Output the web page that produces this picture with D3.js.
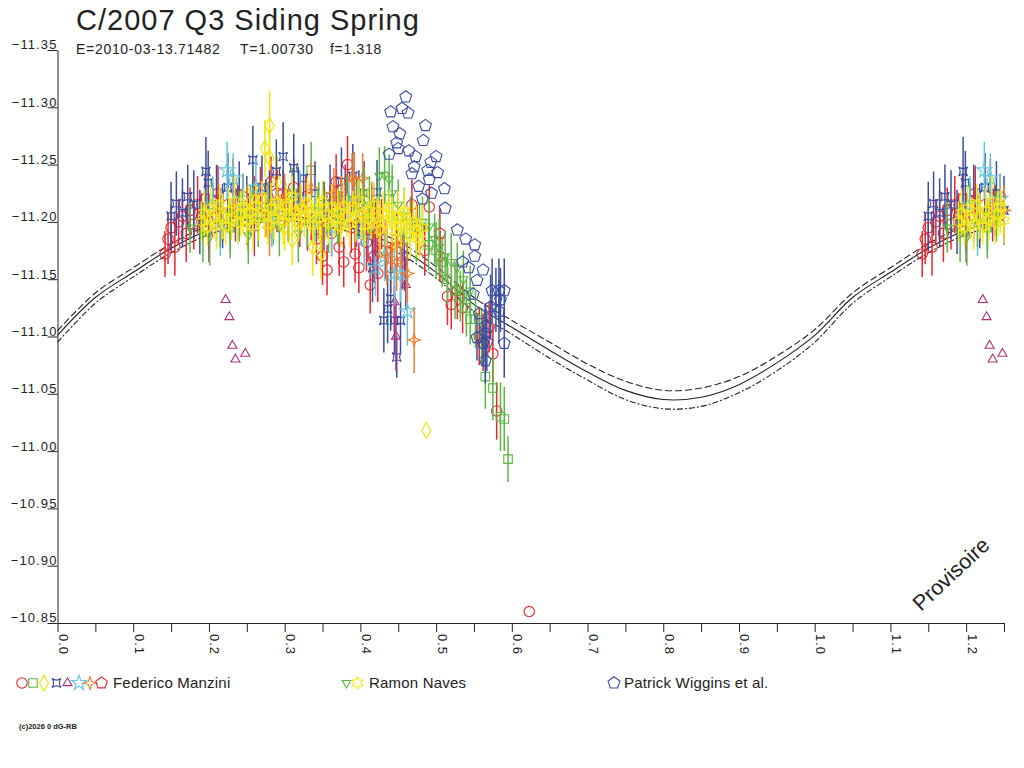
<!DOCTYPE html>
<html lang="fr">
<head>
<meta charset="utf-8" />
<title>C/2007 Q3 Siding Spring</title>
<script src="https://cdn.jsdelivr.net/npm/d3@7/dist/d3.min.js"></script>
<style>
body { margin: 0; background: #fff; }
text { font-family: "Liberation Sans", Arial, sans-serif; fill: #222; }
</style>
</head>
<body>
<script>
// ---- model curve (phase, centre, upper dashed, lower dash-dot) ----
var curvePhase = [0, 0.05, 0.10, 0.15, 0.20, 0.25, 0.30, 0.35, 0.40, 0.45, 0.50, 0.55, 0.60,
	0.65, 0.70, 0.75, 0.80, 0.85, 0.90, 0.95, 1.00, 1.05, 1.10, 1.15, 1.20, 1.25];
var curveMid = [-11.101, -11.134, -11.156, -11.177, -11.193, -11.202, -11.205, -11.201, -11.192,
	-11.178, -11.156, -11.128, -11.108, -11.088, -11.069, -11.053, -11.045, -11.047, -11.058,
	-11.077, -11.101, -11.134, -11.156, -11.177, -11.193, -11.202];
var curveHigh = [-11.105, -11.138, -11.160, -11.181, -11.197, -11.206, -11.209, -11.205, -11.196,
	-11.183, -11.161, -11.134, -11.114, -11.095, -11.076, -11.061, -11.053, -11.055, -11.065,
	-11.083, -11.106, -11.138, -11.160, -11.181, -11.197, -11.206];
var curveLow = [-11.095, -11.129, -11.152, -11.173, -11.189, -11.198, -11.201, -11.197, -11.188,
	-11.173, -11.151, -11.122, -11.102, -11.081, -11.062, -11.045, -11.037, -11.039, -11.051,
	-11.070, -11.095, -11.129, -11.152, -11.173, -11.189, -11.198];

// ---- observations: [phase, magnitude, error] ----
// Federico Manzini
var fmCircle = [[0.142,-11.172,0.02],[0.146,-11.185,0.022],[0.150,-11.195,0.02],[0.155,-11.178,0.025],
	[0.160,-11.200,0.02],[0.165,-11.205,0.022],[0.170,-11.190,0.025],[0.175,-11.210,0.02],[0.180,-11.198,0.022],
	[0.185,-11.215,0.025],[0.190,-11.205,0.02],[0.195,-11.220,0.022],[0.200,-11.200,0.025],[0.205,-11.212,0.02],
	[0.212,-11.225,0.024],[0.218,-11.205,0.022],[0.225,-11.215,0.02],[0.232,-11.230,0.025],[0.238,-11.210,0.022],
	[0.245,-11.222,0.02],[0.252,-11.200,0.025],[0.260,-11.218,0.022],[0.268,-11.228,0.02],[0.275,-11.212,0.025],
	[0.282,-11.235,0.022],[0.290,-11.215,0.024],[0.298,-11.225,0.02],[0.305,-11.205,0.022],[0.312,-11.230,0.025],
	[0.320,-11.200,0.022],[0.328,-11.222,0.02],[0.335,-11.208,0.024],[0.342,-11.185,0.022],[0.350,-11.170,0.025],
	[0.356,-11.158,0.022],[0.362,-11.190,0.02],[0.368,-11.235,0.024],[0.372,-11.178,0.025],[0.378,-11.165,0.022],
	[0.383,-11.250,0.025],[0.388,-11.195,0.022],[0.393,-11.172,0.025],[0.398,-11.160,0.022],[0.402,-11.205,0.02],
	[0.408,-11.182,0.025],[0.413,-11.145,0.025],[0.418,-11.170,0.022],[0.423,-11.155,0.025],[0.428,-11.198,0.022],
	[0.433,-11.175,0.025],[0.440,-11.160,0.022],[0.448,-11.185,0.022],[0.455,-11.165,0.024],[0.468,-11.215,0.022],
	[0.475,-11.195,0.02],[0.485,-11.175,0.022],[0.491,-11.213,0.02],[0.505,-11.170,0.022],[0.515,-11.135,0.025],
	[0.520,-11.128,0.022],[0.528,-11.140,0.025],[0.535,-11.125,0.022],[0.557,-11.100,0.025],[0.562,-11.095,0.025],
	[0.570,-11.108,0.022],[0.575,-11.085,0.025],[0.580,-11.035,0.025],[0.623,-10.860,0]];
var fmSquare = [[0.205,-11.215,0.02],[0.228,-11.195,0.02],[0.255,-11.210,0.022],[0.285,-11.200,0.02],
	[0.310,-11.225,0.022],[0.335,-11.245,0.025],[0.352,-11.215,0.02],[0.372,-11.205,0.022],[0.395,-11.220,0.02],
	[0.418,-11.210,0.022],[0.438,-11.220,0.02],[0.450,-11.205,0.022],[0.462,-11.190,0.02],[0.478,-11.195,0.022],
	[0.490,-11.180,0.022],[0.500,-11.175,0.025],[0.508,-11.165,0.022],[0.515,-11.150,0.022],[0.525,-11.140,0.025],
	[0.532,-11.135,0.022],[0.540,-11.125,0.025],[0.545,-11.115,0.022],[0.552,-11.115,0.025],[0.560,-11.100,0.025],
	[0.565,-11.065,0.028],[0.575,-11.055,0.028],[0.585,-11.030,0.03],[0.590,-11.028,0.028],[0.595,-10.993,0.02]];
var fmDiamond = [[0.245,-11.210,0.02],[0.258,-11.228,0.02],[0.274,-11.264,0.025],[0.280,-11.284,0.03],
	[0.280,-11.256,0.022],[0.290,-11.235,0.022],[0.300,-11.195,0.02],[0.310,-11.184,0.022],[0.337,-11.178,0.025],
	[0.348,-11.172,0.022],[0.350,-11.200,0.02],[0.405,-11.190,0.022],[0.487,-11.018,0]];
var fmAstroid = [[0.150,-11.205,0.03],[0.157,-11.216,0.028],[0.165,-11.208,0.03],[0.172,-11.222,0.028],
	[0.180,-11.215,0.03],[0.188,-11.200,0.028],[0.196,-11.244,0.03],[0.199,-11.234,0.028],[0.210,-11.220,0.03],
	[0.218,-11.205,0.028],[0.225,-11.230,0.03],[0.240,-11.225,0.028],[0.250,-11.210,0.03],[0.258,-11.254,0.03],
	[0.270,-11.230,0.028],[0.280,-11.215,0.03],[0.289,-11.244,0.028],[0.298,-11.257,0.03],[0.312,-11.247,0.03],
	[0.318,-11.220,0.028],[0.325,-11.238,0.03],[0.340,-11.225,0.028],[0.352,-11.205,0.03],[0.360,-11.222,0.028],
	[0.375,-11.235,0.03],[0.390,-11.240,0.028],[0.398,-11.215,0.03],[0.405,-11.225,0.028],[0.416,-11.160,0.03],
	[0.422,-11.226,0.028],[0.431,-11.114,0.028],[0.436,-11.124,0.03],[0.440,-11.133,0.028],[0.445,-11.114,0.03],
	[0.448,-11.082,0.018],[0.453,-11.114,0.028],[0.458,-11.170,0.03]];
var fmTriangle = [[0.200,-11.190,0.025],[0.222,-11.132,0],[0.227,-11.117,0],[0.231,-11.092,0],[0.235,-11.080,0],
	[0.248,-11.085,0],[0.235,-11.205,0.022],[0.260,-11.195,0.025],[0.300,-11.215,0.02],[0.330,-11.200,0.025],
	[0.360,-11.210,0.022],[0.380,-11.225,0.025],[0.395,-11.200,0.022],[0.410,-11.190,0.025],[0.422,-11.175,0.025],
	[0.445,-11.130,0.025],[0.447,-11.100,0.03],[0.460,-11.145,0.022]];
var fmStar = [[0.205,-11.215,0.025],[0.215,-11.200,0.03],[0.224,-11.245,0.025],[0.232,-11.238,0.022],
	[0.245,-11.220,0.022],[0.262,-11.230,0.025],[0.283,-11.200,0.022],[0.320,-11.220,0.025],[0.340,-11.205,0.022],
	[0.362,-11.195,0.025],[0.385,-11.215,0.022],[0.405,-11.185,0.025],[0.420,-11.160,0.025],[0.432,-11.170,0.022],
	[0.445,-11.155,0.028],[0.453,-11.155,0.025],[0.462,-11.122,0.03]];
var fmSparkle = [[0.250,-11.210,0.022],[0.280,-11.195,0.025],[0.300,-11.220,0.022],[0.320,-11.210,0.025],
	[0.335,-11.230,0.022],[0.350,-11.200,0.025],[0.365,-11.225,0.022],[0.375,-11.215,0.025],[0.389,-11.238,0.022],
	[0.392,-11.236,0.025],[0.403,-11.238,0.022],[0.415,-11.210,0.025],[0.425,-11.190,0.022],[0.435,-11.170,0.025],
	[0.442,-11.178,0.022],[0.448,-11.165,0.025],[0.454,-11.181,0.022],[0.462,-11.155,0.025],[0.471,-11.097,0.029]];
var fmPentagon = [[0.210,-11.205,0.022],[0.290,-11.225,0.02],[0.370,-11.210,0.022],[0.420,-11.195,0.025],
	[0.505,-11.190,0.022]];
// Ramon Naves
var rnTriangle = [[0.175,-11.195,0.022],[0.192,-11.190,0.025],[0.201,-11.187,0.025],[0.215,-11.200,0.022],
	[0.228,-11.193,0.025],[0.240,-11.205,0.022],[0.252,-11.188,0.025],[0.265,-11.200,0.022],[0.278,-11.210,0.025],
	[0.293,-11.195,0.025],[0.305,-11.205,0.022],[0.318,-11.190,0.025],[0.330,-11.200,0.022],[0.345,-11.210,0.025],
	[0.358,-11.195,0.022],[0.370,-11.205,0.025],[0.382,-11.220,0.022],[0.395,-11.210,0.025],[0.405,-11.225,0.022],
	[0.412,-11.215,0.025],[0.425,-11.240,0.025],[0.432,-11.241,0.025],[0.438,-11.237,0.022],[0.442,-11.225,0.025],
	[0.450,-11.215,0.022],[0.458,-11.205,0.025],[0.466,-11.200,0.022],[0.474,-11.190,0.025],[0.482,-11.200,0.022],
	[0.491,-11.196,0.025],[0.498,-11.185,0.022],[0.504,-11.178,0.025],[0.512,-11.170,0.022],[0.520,-11.165,0.025],
	[0.528,-11.160,0.022],[0.536,-11.150,0.025],[0.545,-11.140,0.022]];
var rnHexagram = [[0.190,-11.200,0.018],[0.194,-11.208,0.02],[0.198,-11.195,0.016],[0.202,-11.212,0.02],
	[0.206,-11.203,0.018],[0.210,-11.198,0.022],[0.214,-11.215,0.018],[0.218,-11.205,0.02],[0.222,-11.196,0.016],
	[0.226,-11.210,0.02],[0.230,-11.202,0.018],[0.234,-11.218,0.022],[0.238,-11.199,0.018],[0.242,-11.207,0.02],
	[0.246,-11.213,0.016],[0.250,-11.201,0.02],[0.254,-11.209,0.018],[0.258,-11.196,0.022],[0.262,-11.214,0.018],
	[0.266,-11.204,0.02],[0.270,-11.220,0.016],[0.274,-11.206,0.02],[0.278,-11.198,0.018],[0.282,-11.212,0.022],
	[0.286,-11.203,0.018],[0.290,-11.217,0.02],[0.294,-11.208,0.016],[0.298,-11.200,0.02],[0.302,-11.214,0.018],
	[0.306,-11.205,0.022],[0.310,-11.222,0.018],[0.314,-11.209,0.02],[0.318,-11.199,0.016],[0.322,-11.212,0.02],
	[0.326,-11.204,0.018],[0.330,-11.216,0.022],[0.334,-11.207,0.018],[0.338,-11.197,0.02],[0.342,-11.211,0.016],
	[0.346,-11.203,0.02],[0.350,-11.218,0.018],[0.354,-11.206,0.022],[0.358,-11.199,0.018],[0.362,-11.213,0.02],
	[0.366,-11.202,0.016],[0.370,-11.209,0.02],[0.374,-11.196,0.018],[0.378,-11.214,0.022],[0.382,-11.205,0.018],
	[0.386,-11.198,0.02],[0.390,-11.211,0.016],[0.394,-11.203,0.02],[0.398,-11.219,0.018],[0.402,-11.207,0.022],
	[0.406,-11.197,0.018],[0.410,-11.210,0.02],[0.414,-11.201,0.016],[0.418,-11.215,0.02],[0.422,-11.204,0.018],
	[0.426,-11.193,0.022],[0.430,-11.208,0.018],[0.434,-11.199,0.02],[0.438,-11.212,0.016],[0.442,-11.202,0.02],
	[0.446,-11.192,0.018],[0.450,-11.205,0.022],[0.454,-11.196,0.018],[0.458,-11.209,0.02],[0.462,-11.198,0.016],
	[0.466,-11.188,0.02],[0.470,-11.200,0.018],[0.474,-11.192,0.022],[0.478,-11.185,0.018],[0.482,-11.195,0.02]];
// Patrick Wiggins et al.
var pwPentagon = [[0.460,-11.309,0],[0.440,-11.296,0],[0.455,-11.299,0],[0.463,-11.295,0],[0.486,-11.284,0],
	[0.443,-11.283,0],[0.452,-11.277,0],[0.483,-11.271,0],[0.448,-11.269,0],[0.450,-11.264,0],[0.438,-11.259,0],
	[0.464,-11.262,0],[0.473,-11.257,0],[0.500,-11.257,0],[0.493,-11.252,0],[0.471,-11.248,0],[0.468,-11.242,0],
	[0.489,-11.245,0],[0.502,-11.243,0],[0.491,-11.237,0],[0.477,-11.231,0],[0.511,-11.229,0],[0.494,-11.225,0],
	[0.482,-11.220,0],[0.512,-11.212,0],[0.528,-11.193,0],[0.539,-11.185,0],[0.551,-11.180,0],[0.551,-11.170,0],
	[0.535,-11.165,0],[0.543,-11.160,0],[0.562,-11.158,0],[0.554,-11.149,0],[0.549,-11.137,0],[0.557,-11.120,0],
	[0.565,-11.109,0.02],[0.562,-11.094,0.02],[0.554,-11.099,0.02],[0.574,-11.140,0.028],[0.583,-11.140,0.028],
	[0.590,-11.140,0.028],[0.579,-11.132,0.028],[0.585,-11.132,0.028],[0.572,-11.126,0.028],[0.583,-11.122,0.028],
	[0.590,-11.094,0.03],[0.565,-11.103,0.025],[0.567,-11.095,0.025],[0.565,-11.079,0.02]];

var yTicks = [-11.35, -11.30, -11.25, -11.20, -11.15, -11.10, -11.05, -11.00, -10.95, -10.90, -10.85];
var xTicks = [0, 0.05, 0.1, 0.15, 0.2, 0.25, 0.3, 0.35, 0.4, 0.45, 0.5, 0.55, 0.6, 0.65, 0.7, 0.75,
	0.8, 0.85, 0.9, 0.95, 1.0, 1.05, 1.1, 1.15, 1.2, 1.25];
var xLabelled = [0, 0.1, 0.2, 0.3, 0.4, 0.5, 0.6, 0.7, 0.8, 0.9, 1.0, 1.1, 1.2];

var w = 1024;
var h = 768;
var xMax = 1.25;

var xScale = d3.scaleLinear().domain([0, xMax]).range([57.5, 1004]);
var yScale = d3.scaleLinear().domain([-11.35, -10.85]).range([50, 623]);

//Custom marker shapes
function poly(n, inner, rot) {
	return {
		draw: function(ctx, size) {
			var r = Math.sqrt(size / 2.2);
			var k = inner ? n * 2 : n;
			for (var i = 0; i < k; i++) {
				var a = rot + i * Math.PI * 2 / k;
				var rr = inner && i % 2 ? r * inner : r;
				if (i === 0) ctx.moveTo(rr * Math.cos(a), rr * Math.sin(a));
				else ctx.lineTo(rr * Math.cos(a), rr * Math.sin(a));
			}
			ctx.closePath();
		}
	};
}
var symPentagon = poly(5, 0, -Math.PI / 2);
var symTriUp = poly(3, 0, -Math.PI / 2);
var symTriDown = poly(3, 0, Math.PI / 2);
var symHexagram = poly(6, 0.58, -Math.PI / 2);
var symSparkle = poly(4, 0.35, -Math.PI / 2);
var symAstroid = {
	draw: function(ctx, size) {
		var r = Math.sqrt(size) / 2;
		var c = r * 0.3;
		ctx.moveTo(-r, -r);
		ctx.quadraticCurveTo(0, -c, r, -r);
		ctx.quadraticCurveTo(c, 0, r, r);
		ctx.quadraticCurveTo(0, c, -r, r);
		ctx.quadraticCurveTo(-c, 0, -r, -r);
		ctx.closePath();
	}
};

var series = [
	{ data: fmCircle, type: d3.symbolCircle, size: 85, color: "#e8262c" },
	{ data: fmSquare, type: d3.symbolSquare, size: 72, color: "#5cb545" },
	{ data: fmDiamond, type: d3.symbolDiamond, size: 72, color: "#f2e400" },
	{ data: fmAstroid, type: symAstroid, size: 80, color: "#3a4d9f" },
	{ data: fmTriangle, type: symTriUp, size: 60, color: "#b0307c" },
	{ data: fmStar, type: d3.symbolStar, size: 70, color: "#62c6dc" },
	{ data: fmSparkle, type: symSparkle, size: 90, color: "#f07d2a" },
	{ data: fmPentagon, type: symPentagon, size: 80, color: "#e8262c" },
	{ data: rnTriangle, type: symTriDown, size: 55, color: "#5cb545" },
	{ data: rnHexagram, type: symHexagram, size: 80, color: "#f5e81a" },
	{ data: pwPentagon, type: symPentagon, size: 85, color: "#3a4d9f" }
];

//Repeat points one phase later while they stay on the axis
function unfold(arr) {
	var out = arr.slice();
	arr.forEach(function(d) {
		if (d[0] + 1 <= xMax) out.push([d[0] + 1, d[1], d[2]]);
	});
	return out;
}

var svg = d3.select("body").append("svg").attr("width", w).attr("height", h);

//Title
svg.append("text").attr("x", 76).attr("y", 30).attr("font-size", 29).attr("letter-spacing", 1)
	.text("C/2007 Q3 Siding Spring");
var sub = [["E=2010-03-13.71482", 76], ["T=1.00730", 240], ["f=1.318", 330]];
svg.selectAll(".sub").data(sub).enter().append("text")
	.attr("class", "sub")
	.attr("x", function(d) { return d[1]; })
	.attr("y", 54)
	.attr("font-size", 14)
	.attr("letter-spacing", 0.7)
	.text(function(d) { return d[0]; });

//Model curves
function curveLine(vals) {
	return d3.line()
		.x(function(d, i) { return xScale(curvePhase[i]); })
		.y(function(d) { return yScale(d); })
		.curve(d3.curveCatmullRom)(vals);
}
svg.append("path").attr("d", curveLine(curveHigh)).attr("fill", "none")
	.attr("stroke", "#222").attr("stroke-width", 1.1).attr("stroke-dasharray", "7,3");
svg.append("path").attr("d", curveLine(curveLow)).attr("fill", "none")
	.attr("stroke", "#222").attr("stroke-width", 1.1).attr("stroke-dasharray", "6,2,2,2");
svg.append("path").attr("d", curveLine(curveMid)).attr("fill", "none")
	.attr("stroke", "#222").attr("stroke-width", 1.1);

//Observations with error bars
series.forEach(function(s) {
	var pts = svg.append("g").selectAll("g")
		.data(unfold(s.data))
		.enter()
		.append("g")
		.attr("transform", function(d) {
			return "translate(" + xScale(d[0]) + "," + yScale(d[1]) + ")";
		});
	pts.filter(function(d) { return d[2] > 0; })
		.append("line")
		.attr("y1", function(d) { return yScale(d[1] - d[2]) - yScale(d[1]); })
		.attr("y2", function(d) { return yScale(d[1] + d[2]) - yScale(d[1]); })
		.attr("stroke", s.color)
		.attr("stroke-width", 1.5);
	pts.append("path")
		.attr("d", d3.symbol().type(s.type).size(s.size))
		.attr("fill", "none")
		.attr("stroke", s.color)
		.attr("stroke-width", 1.1);
});

//Y axis
var yAxis = d3.axisLeft(yScale).tickValues(yTicks).tickSize(10).tickSizeOuter(0)
	.tickFormat(d3.format(".2f"));
var gy = svg.append("g")
	.attr("transform", "translate(57.5,0)")
	.call(yAxis)
	.attr("font-family", null)
	.attr("font-size", 13)
	.attr("color", "#222");
gy.selectAll("text").attr("x", 0).attr("dy", "-0.08em").attr("letter-spacing", 1.1);

//X axis
var xAxis = d3.axisBottom(xScale).tickValues(xTicks).tickSize(9).tickSizeOuter(0)
	.tickFormat(function(d) {
		return xLabelled.some(function(v) { return Math.abs(v - d) < 1e-9; }) ? d3.format(".1f")(d) : "";
	});
var gx = svg.append("g")
	.attr("transform", "translate(0,623)")
	.call(xAxis)
	.attr("font-family", null)
	.attr("font-size", 13)
	.attr("color", "#222");
gx.selectAll("text")
	.attr("transform", "rotate(90)")
	.attr("x", 11)
	.attr("y", -1)
	.attr("dy", 0)
	.attr("text-anchor", "start")
	.attr("letter-spacing", 1);

//Legend
var legend = [
	{ label: "Federico Manzini", x: 113, marks: [0, 1, 2, 3, 4, 5, 6, 7], mx: [22, 33, 44, 56.5, 67.5, 79, 90, 101.5] },
	{ label: "Ramon Naves", x: 369, marks: [8, 9], mx: [346.5, 357.5] },
	{ label: "Patrick Wiggins et al.", x: 624, marks: [10], mx: [614] }
];
legend.forEach(function(l) {
	l.marks.forEach(function(m, i) {
		var s = series[m];
		svg.append("path")
			.attr("transform", "translate(" + l.mx[i] + ",683)")
			.attr("d", d3.symbol().type(s.type).size(s.size))
			.attr("fill", "none")
			.attr("stroke", s.color)
			.attr("stroke-width", 1.1);
	});
	svg.append("text").attr("x", l.x).attr("y", 688).attr("font-size", 15)
		.attr("letter-spacing", 0.2).text(l.label);
});

svg.append("text").attr("x", 19).attr("y", 729).attr("font-size", 7.5).attr("font-weight", "bold")
	.text("(c)2026 0 dG-RB");

svg.append("text")
	.attr("transform", "translate(921,612) rotate(-43)")
	.attr("font-size", 21.5)
	.text("Provisoire");
</script>
</body>
</html>
